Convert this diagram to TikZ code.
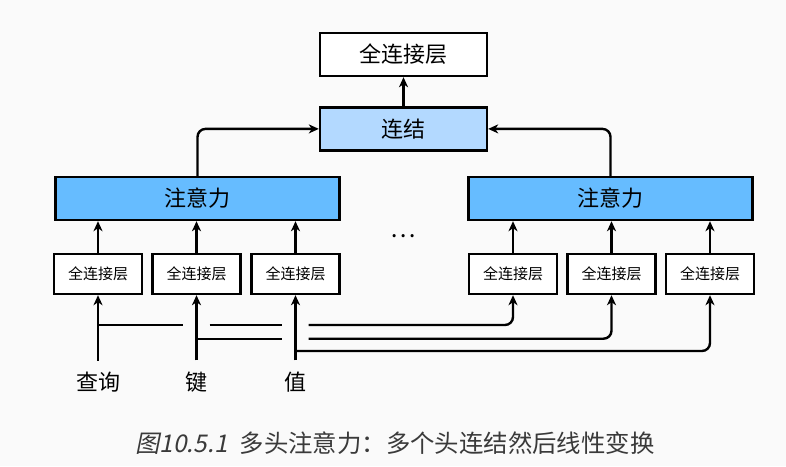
\documentclass[tikz,border=0pt]{standalone}
\usepackage{fontspec}
\setmainfont{Noto Sans CJK SC}
\newfontfamily\cjkslant[FakeSlant=0.2]{Noto Sans CJK SC}
\usetikzlibrary{
  arrows.meta,
  positioning
}
\usepackage{xcolor}
\definecolor{bgpaper}{HTML}{FAFAFA}
\definecolor{headblue}{HTML}{66BCFF}
\definecolor{catblue}{HTML}{B3D9FF}
\definecolor{capgray}{HTML}{3A3A3A}

\begin{document}
\begin{tikzpicture}[
  x=0.5pt, y=-0.5pt,
  node distance=14.5pt,
  box/.style={draw, line width=1.2pt, inner sep=0pt, fill=white},
  bigbox/.style={box, minimum width=83.5pt, minimum height=21.5pt, font=\fontsize{11}{13}\selectfont},
  headbox/.style={box, fill=headblue, minimum width=142pt, minimum height=21.5pt, font=\fontsize{11}{13}\selectfont},
  fcbox/.style={box, minimum width=44pt, minimum height=20pt, font=\fontsize{7.5}{9}\selectfont},
  inlabel/.style={inner sep=5.5pt, font=\fontsize{11}{13}\selectfont},
  arr/.style={-{Stealth[length=5pt, width=4.5pt, inset=1.5pt]}, line width=1.2pt},
  wire/.style={line width=1.2pt}
]
  % background and frame size
  \fill[bgpaper] (0,0) rectangle (786,466);
  \useasboundingbox (0,0) rectangle (786,466);

  % output layer and concatenation
  \node[bigbox] (fc) at (403.5,54.5) {全连接层};
  \node[bigbox, fill=catblue, below=of fc] (concat) {连结};

  % attention heads
  \node[headbox] (head1) at (197.5,198.5) {注意力};
  \node[headbox] (head2) at (610.5,198.5) {注意力};
  \node[font=\fontsize{12}{14}\selectfont] (dots) at (403.5,236) {\dots};

  % per-head dense layers
  \node[fcbox] (fq1) at (98,274) {全连接层};
  \node[fcbox] (fk1) at (196.5,274) {全连接层};
  \node[fcbox] (fv1) at (295.5,274) {全连接层};
  \node[fcbox] (fq2) at (513,274) {全连接层};
  \node[fcbox] (fk2) at (611.5,274) {全连接层};
  \node[fcbox] (fv2) at (710,274) {全连接层};

  % inputs
  \node[inlabel] (q) at (98,382) {查询};
  \node[inlabel] (k) at (196.5,382) {键};
  \node[inlabel] (v) at (295.5,382) {值};
  \coordinate (rq) at (0,325);
  \coordinate (rk) at (0,338.7);
  \coordinate (rv) at (0,351);

  % Arrows
  \draw[arr] (concat) -- (fc);
  \draw[arr, rounded corners=4pt] (head1.north) |- (concat.west);
  \draw[arr, rounded corners=4pt] (head2.north) |- (concat.east);
  \foreach \f/\h in {fq1/head1, fk1/head1, fv1/head1, fq2/head2, fk2/head2, fv2/head2}
    \draw[arr] (\f.north) -- (\f.north |- \h.south);
  \draw[arr] (q.north) -- (fq1.south);
  \draw[arr] (k.north) -- (fk1.south);
  \draw[arr] (v.north) -- (fv1.south);

  % query branch (hops over key and value)
  \draw[wire] (fq1.south |- rq) -- ([xshift=-6.6pt]fk1.south |- rq);
  \draw[wire] ([xshift=6.6pt]fk1.south |- rq) -- ([xshift=-6.6pt]fv1.south |- rq);
  \draw[arr, rounded corners=4pt] ([xshift=6.6pt]fv1.south |- rq) -| (fq2.south);
  % key branch (hops over value)
  \draw[wire] (fk1.south |- rk) -- ([xshift=-6.6pt]fv1.south |- rk);
  \draw[arr, rounded corners=4pt] ([xshift=6.6pt]fv1.south |- rk) -| (fk2.south);
  % value branch
  \draw[arr, rounded corners=4pt] (fv1.south |- rv) -| (fv2.south);

  % caption
  \node[text=capgray, font=\fontsize{12.2}{14}\selectfont] (cap) at (395,443)
    {{\cjkslant 图10.5.1}\enspace 多头注意力：多个头连结然后线性变换};
\end{tikzpicture}
\end{document}
